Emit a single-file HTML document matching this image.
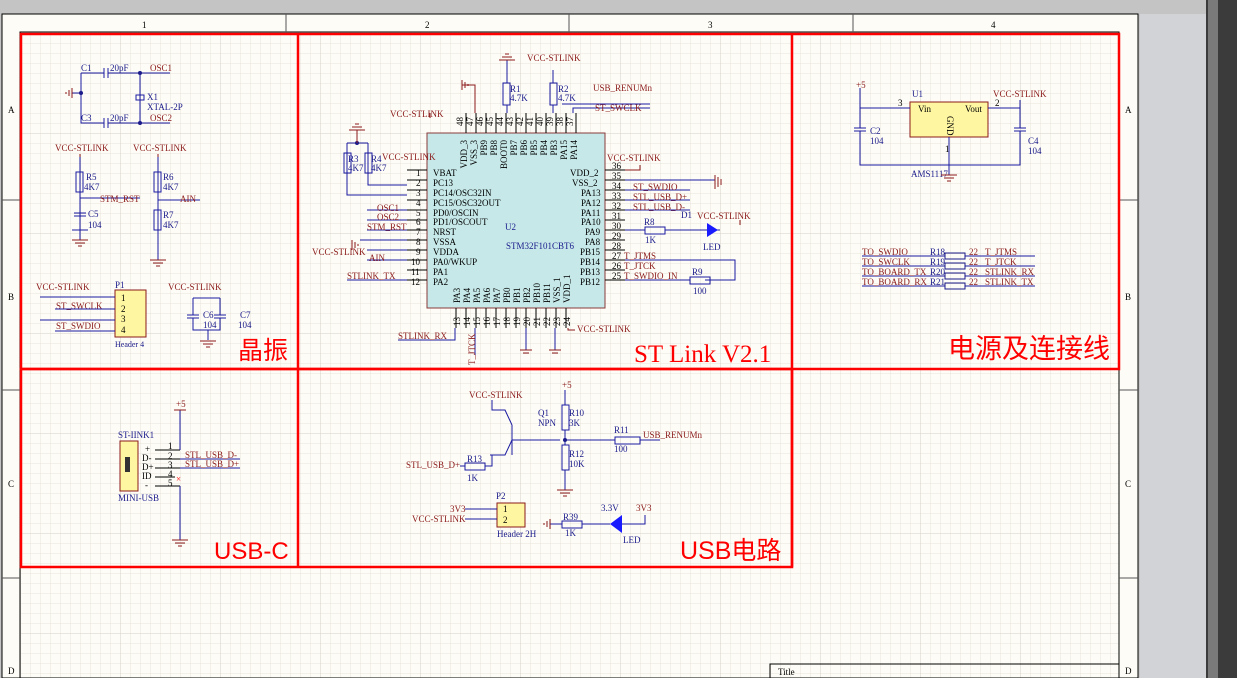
<!DOCTYPE html>
<html><head><meta charset="utf-8"><style>
html,body{margin:0;padding:0;background:#c4c4c4;width:1237px;height:678px;overflow:hidden}
svg{display:block}
text{font-family:"Liberation Serif","Noto Serif CJK SC",serif;font-size:9px}
.n{fill:#8b1a1a}.b{fill:#1a1a8b}.k{fill:#000}
.w{stroke:#1a1aa0;stroke-width:1;fill:none}
.p{stroke:#000;stroke-width:1;fill:none}
.r{stroke:#8b1a1a;stroke-width:1;fill:none}
.big{font-family:"Liberation Sans","Noto Sans CJK SC",sans-serif;font-size:22px;fill:#f00}
</style></head><body>
<svg width="1237" height="678" viewBox="0 0 1237 678">
<defs>
<pattern id="g" width="10" height="10" patternUnits="userSpaceOnUse" x="21" y="34"><path d="M10 0V10H0" fill="none" stroke="#e6e3da" stroke-width="1"/></pattern>
<pattern id="G" width="100" height="100" patternUnits="userSpaceOnUse" x="21" y="34"><path d="M100 0V100H0" fill="none" stroke="#d4d1c8" stroke-width="1"/></pattern>
</defs>
<rect x="0" y="0" width="1237" height="678" fill="#c4c4c4"/>
<rect x="1140" y="14" width="66" height="664" fill="#d2d3d6"/>
<rect x="1206" y="0" width="31" height="678" fill="#3b3b3b"/>
<rect x="1208" y="0" width="10" height="678" fill="#7a7a7a"/>
<rect x="2" y="14" width="1136" height="664" fill="#fdfcf6" stroke="#000"/>
<rect x="20" y="32" width="1099" height="646" fill="#fdfcf6"/>
<rect x="20" y="32" width="1099" height="646" fill="url(#g)"/>
<rect x="20" y="32" width="1099" height="646" fill="url(#G)"/>
<rect x="20" y="32" width="1099" height="646" fill="none" stroke="#000"/>
<g stroke="#555"><line x1="286" y1="14" x2="286" y2="32"/><line x1="569" y1="14" x2="569" y2="32"/><line x1="853" y1="14" x2="853" y2="32"/>
<line x1="1119" y1="200" x2="1138" y2="200"/><line x1="1119" y1="390" x2="1138" y2="390"/><line x1="1119" y1="578" x2="1138" y2="578"/>
<line x1="2" y1="200" x2="20" y2="200"/><line x1="2" y1="390" x2="20" y2="390"/><line x1="2" y1="578" x2="20" y2="578"/></g>
<g class="k"><text x="142" y="28">1</text><text x="425" y="28">2</text><text x="708" y="28">3</text><text x="991" y="28">4</text>
<text x="8" y="113">A</text><text x="1125" y="113">A</text><text x="8" y="300">B</text><text x="1125" y="300">B</text><text x="8" y="487">C</text><text x="1125" y="487">C</text><text x="8" y="674">D</text><text x="1125" y="674">D</text></g>
<rect x="770" y="664" width="349" height="14" fill="none" stroke="#000"/><text x="778" y="675" class="k">Title</text>

<!-- red boxes -->
<g fill="none" stroke="#f00" stroke-width="2.5">
<rect x="21" y="34" width="1098" height="335"/><line x1="298" y1="34" x2="298" y2="567"/><line x1="792" y1="34" x2="792" y2="567"/>
<rect x="21" y="369" width="771" height="198"/></g>
<text class="big" x="238" y="359" style="font-size:25px">晶振</text>
<text class="big" x="634" y="362" style="font-family:'Liberation Serif',serif;font-size:25px">ST Link V2.1</text>
<text class="big" x="948" y="358" style="font-size:27px">电源及连接线</text>
<text class="big" x="214" y="559" style="font-size:24px">USB-C</text>
<text class="big" x="680" y="559" style="font-size:25px">USB电路</text>

<!-- crystal -->
<g class="w"><path d="M81 73H104M108 73H140M81 73V123H104M108 123H140M140 73V123M140 73H170M140 123H170M72 93H81"/>
<path d="M104 68V78M108 68V78M104 118V128M108 118V128"/><rect x="136" y="95" width="8" height="5"/></g>
<g class="r"><path d="M72 88V98M69 90V96M66 92V94"/></g>
<circle cx="81" cy="93" r="2" fill="#1a1a8b"/><circle cx="140" cy="73" r="2" fill="#1a1a8b"/><circle cx="140" cy="123" r="2" fill="#1a1a8b"/>
<text x="81" y="71" class="b">C1</text><text x="110" y="71" class="b">20pF</text><text x="150" y="71" class="n">OSC1</text>
<text x="81" y="121" class="b">C3</text><text x="110" y="121" class="b">20pF</text><text x="150" y="121" class="n">OSC2</text>
<text x="147" y="100" class="b">X1</text><text x="147" y="110" class="b">XTAL-2P</text>
<text x="55" y="151" class="n">VCC-STLINK</text><text x="133" y="151" class="n">VCC-STLINK</text>
<g class="w"><path d="M80 157V240M158 157V260M80 198H140M158 200H200M80 200V230M72 230H88M158 210"/><rect x="76" y="172" width="7" height="20"/><rect x="154" y="172" width="7" height="20"/><rect x="154" y="210" width="7" height="20"/><path d="M74 213H86M74 216H86"/></g>
<g class="r"><path d="M72 240H88M75 243H85M78 246H82M150 260H166M153 263H163M156 266H160M80 154V157M158 154V157"/></g>
<text x="86" y="180" class="b">R5</text><text x="84" y="190" class="b">4K7</text><text x="163" y="180" class="b">R6</text><text x="163" y="190" class="b">4K7</text>
<text x="100" y="202" class="n">STM_RST</text><text x="180" y="202" class="n">AIN</text>
<text x="88" y="217" class="b">C5</text><text x="88" y="228" class="b">104</text><text x="163" y="218" class="b">R7</text><text x="163" y="228" class="b">4K7</text>
<!-- P1 -->
<rect x="115" y="290" width="31" height="47" fill="#fef6a0" stroke="#8b1a1a"/>
<text x="115" y="288" class="b">P1</text><text x="115" y="347" class="b" style="font-size:8px">Header 4</text>
<g class="k"><text x="121" y="301">1</text><text x="121" y="312">2</text><text x="121" y="322">3</text><text x="121" y="333">4</text></g>
<text x="36" y="290" class="n">VCC-STLINK</text><text x="56" y="309" class="n">ST_SWCLK</text><text x="56" y="329" class="n">ST_SWDIO</text>
<g class="w"><path d="M40 297H115M40 320H115M55 309H115M55 331H115"/></g>
<text x="168" y="290" class="n">VCC-STLINK</text>
<g class="w"><path d="M193 298H220M193 298V315M220 298V315M187 315H199M187 318H199M214 315H226M214 318H226M193 318V330H220V318M208 330V340"/></g>
<text x="203" y="318" class="b">C6</text><text x="203" y="328" class="b">104</text><text x="240" y="318" class="b">C7</text><text x="238" y="328" class="b">104</text>
<path d="M200 341H216M203 344H213M206 347H210" class="r"/>

<!-- STM32 -->
<rect x="427" y="133" width="178" height="175" fill="#c6e8e8" stroke="#8b3a3a"/>
<text x="505" y="230" class="b">U2</text><text x="506" y="249" class="b">STM32F101CBT6</text>
<g class="k" style="font-size:8.5px">
<text x="433" y="176">VBAT</text><text x="433" y="186">PC13</text><text x="433" y="196">PC14/OSC32IN</text><text x="433" y="206">PC15/OSC32OUT</text><text x="433" y="216">PD0/OSCIN</text><text x="433" y="225">PD1/OSCOUT</text><text x="433" y="235">NRST</text><text x="433" y="245">VSSA</text><text x="433" y="255">VDDA</text><text x="433" y="265">PA0/WKUP</text><text x="433" y="275">PA1</text><text x="433" y="285">PA2</text>
<text x="570" y="176">VDD_2</text><text x="572" y="186">VSS_2</text><text x="581" y="196">PA13</text><text x="581" y="206">PA12</text><text x="581" y="216">PA11</text><text x="581" y="225">PA10</text><text x="585" y="235">PA9</text><text x="585" y="245">PA8</text><text x="580" y="255">PB15</text><text x="580" y="265">PB14</text><text x="580" y="275">PB13</text><text x="580" y="285">PB12</text>
</g>
<g class="p">
<path d="M407 170H427M407 180H427M407 190H427M407 200H427M407 210H427M407 220H427M407 230H427M407 240H427M407 250H427M407 260H427M407 270H427M407 280H427"/>
<path d="M605 170H625M605 180H625M605 190H625M605 200H625M605 210H625M605 220H625M605 230H625M605 240H625M605 250H625M605 260H625M605 270H625M605 280H625"/>
<path d="M466 113V133M476 113V133M486 113V133M496 113V133M506 113V133M516 113V133M526 113V133M536 113V133M546 113V133M556 113V133M566 113V133M576 113V133"/>
<path d="M456 308V328M466 308V328M476 308V328M486 308V328M496 308V328M506 308V328M516 308V328M526 308V328M536 308V328M546 308V328M556 308V328M566 308V328"/>
</g>
<g class="k" style="font-size:7.5px">
<text x="416" y="176">1</text><text x="416" y="186">2</text><text x="416" y="196">3</text><text x="416" y="206">4</text><text x="416" y="216">5</text><text x="416" y="225">6</text><text x="416" y="235">7</text><text x="416" y="245">8</text><text x="416" y="255">9</text><text x="411" y="265">10</text><text x="411" y="275">11</text><text x="411" y="285">12</text>
<text x="612" y="169">36</text><text x="612" y="179">35</text><text x="612" y="189">34</text><text x="612" y="199">33</text><text x="612" y="209">32</text><text x="612" y="219">31</text><text x="612" y="229">30</text><text x="612" y="239">29</text><text x="612" y="249">28</text><text x="612" y="259">27</text><text x="612" y="269">26</text><text x="612" y="279">25</text>
</g>
<g class="k" style="font-size:7.5px">
<text transform="translate(463,126) rotate(-90)">48</text><text transform="translate(473,126) rotate(-90)">47</text><text transform="translate(483,126) rotate(-90)">46</text><text transform="translate(493,126) rotate(-90)">45</text><text transform="translate(503,126) rotate(-90)">44</text><text transform="translate(513,126) rotate(-90)">43</text><text transform="translate(523,126) rotate(-90)">42</text><text transform="translate(533,126) rotate(-90)">41</text><text transform="translate(543,126) rotate(-90)">40</text><text transform="translate(553,126) rotate(-90)">39</text><text transform="translate(563,126) rotate(-90)">38</text><text transform="translate(573,126) rotate(-90)">37</text>
<text transform="translate(467,140) rotate(-90)" text-anchor="end">VDD_3</text><text transform="translate(477,140) rotate(-90)" text-anchor="end">VSS_3</text><text transform="translate(487,140) rotate(-90)" text-anchor="end">PB9</text><text transform="translate(497,140) rotate(-90)" text-anchor="end">PB8</text><text transform="translate(507,140) rotate(-90)" text-anchor="end">BOOT0</text><text transform="translate(517,140) rotate(-90)" text-anchor="end">PB7</text><text transform="translate(527,140) rotate(-90)" text-anchor="end">PB6</text><text transform="translate(537,140) rotate(-90)" text-anchor="end">PB5</text><text transform="translate(547,140) rotate(-90)" text-anchor="end">PB4</text><text transform="translate(557,140) rotate(-90)" text-anchor="end">PB3</text><text transform="translate(567,140) rotate(-90)" text-anchor="end">PA15</text><text transform="translate(577,140) rotate(-90)" text-anchor="end">PA14</text>
<text transform="translate(460,303) rotate(-90)">PA3</text><text transform="translate(470,303) rotate(-90)">PA4</text><text transform="translate(480,303) rotate(-90)">PA5</text><text transform="translate(490,303) rotate(-90)">PA6</text><text transform="translate(500,303) rotate(-90)">PA7</text><text transform="translate(510,303) rotate(-90)">PB0</text><text transform="translate(520,303) rotate(-90)">PB1</text><text transform="translate(530,303) rotate(-90)">PB2</text><text transform="translate(540,303) rotate(-90)">PB10</text><text transform="translate(550,303) rotate(-90)">PB11</text><text transform="translate(560,303) rotate(-90)">VSS_1</text><text transform="translate(570,303) rotate(-90)">VDD_1</text>
<text transform="translate(460,326) rotate(-90)">13</text><text transform="translate(470,326) rotate(-90)">14</text><text transform="translate(480,326) rotate(-90)">15</text><text transform="translate(490,326) rotate(-90)">16</text><text transform="translate(500,326) rotate(-90)">17</text><text transform="translate(510,326) rotate(-90)">18</text><text transform="translate(520,326) rotate(-90)">19</text><text transform="translate(530,326) rotate(-90)">20</text><text transform="translate(540,326) rotate(-90)">21</text><text transform="translate(550,326) rotate(-90)">22</text><text transform="translate(560,326) rotate(-90)">23</text><text transform="translate(570,326) rotate(-90)">24</text>
</g>
<!-- chip nets -->
<g class="w"><path d="M347 143V195H407M368 143V185H407M347 143H368M507 60V83M507 105V113M553 70V83M553 105V113M562 104H650M573 113V108H650M367 210H407M367 220H407M367 230H407M360 240H407M367 250H407M367 260H407M347 280H407M625 190H690M625 200H690M625 210H690M625 230H645M665 230H720M625 260H735V280H705M625 280H690M625 180H715M475 328V355M455 328V340H398M526 328V350M555 328V350"/>
<rect x="344" y="153" width="7" height="20"/><rect x="365" y="153" width="7" height="20"/><rect x="503" y="83" width="7" height="22"/><rect x="550" y="83" width="7" height="22"/><rect x="645" y="227" width="20" height="7"/><rect x="690" y="277" width="20" height="7"/></g>
<circle cx="357" cy="143" r="2" fill="#1a1a8b"/>
<path d="M707 223L718 230L707 237ZM718 223V237" fill="#1a1aff"/>
<g class="r"><path d="M349 130H365M352 127H362M355 124H359M357 130V143M499 60H515M502 57H512M505 54H509M462 80V90M465 82V88M468 84V86M462 85H475V113M715 175V189M718 177V187M721 179V185M352 240V250M355 242V248M358 244V246M520 350H532M523 353H529M549 350H561M552 353H558M430 113V118M625 170H640V165M740 225V220M568 328V330H575"/></g>
<g class="n">
<text x="527" y="61">VCC-STLINK</text><text x="593" y="91">USB_RENUMn</text><text x="595" y="111">ST_SWCLK</text>
<text x="390" y="117">VCC-STLINK</text><text x="382" y="160">VCC-STLINK</text>
<text x="607" y="161">VCC-STLINK</text><text x="633" y="190">ST_SWDIO</text><text x="633" y="200">STL_USB_D+</text><text x="633" y="210">STL_USB_D-</text>
<text x="697" y="219">VCC-STLINK</text><text x="624" y="259">T_JTMS</text><text x="624" y="269">T_JTCK</text><text x="624" y="279">T_SWDIO_IN</text>
<text x="377" y="211">OSC1</text><text x="377" y="220">OSC2</text><text x="367" y="230">STM_RST</text><text x="312" y="255">VCC-STLINK</text><text x="369" y="261">AIN</text><text x="347" y="279">STLINK_TX</text>
<text x="398" y="339">STLINK_RX</text><text x="577" y="332">VCC-STLINK</text>
<text transform="translate(475,365) rotate(-90)">T_JTCK</text>
</g>
<g class="b"><text x="510" y="92">R1</text><text x="510" y="101">4.7K</text><text x="558" y="92">R2</text><text x="558" y="101">4.7K</text>
<text x="348" y="162">R3</text><text x="348" y="171">4K7</text><text x="371" y="162">R4</text><text x="371" y="171">4K7</text>
<text x="644" y="225">R8</text><text x="645" y="243">1K</text><text x="681" y="218">D1</text><text x="703" y="250">LED</text><text x="692" y="275">R9</text><text x="693" y="294">100</text></g>

<!-- Power -->
<rect x="910" y="102" width="78" height="35" fill="#fef6a0" stroke="#8b1a1a"/>
<g class="k"><text x="918" y="112">Vin</text><text x="965" y="112">Vout</text><text x="898" y="106">3</text><text x="995" y="106">2</text><text x="945" y="152">1</text><text transform="translate(947,116) rotate(90)">GND</text></g>
<text x="912" y="97" class="b">U1</text><text x="911" y="177" class="b">AMS1117</text>
<text x="856" y="88" class="n">+5</text><text x="993" y="97" class="n">VCC-STLINK</text>
<g class="w"><path d="M860 88V108H910M860 108V128M854 128H866M854 131H866M860 131V165H1020V131M1014 128H1026M1014 131H1026M1020 128V108H988M949 137V175M1020 100V108"/></g>
<path d="M941 175H957M944 178H954M947 181H951" class="r"/>
<text x="870" y="134" class="b">C2</text><text x="870" y="144" class="b">104</text><text x="1028" y="144" class="b">C4</text><text x="1028" y="154" class="b">104</text>
<g class="w"><path d="M862 256H945M862 266H945M862 276H945M862 286H945M965 256H1035M965 266H1035M965 276H1035M965 286H1035"/></g>
<g fill="none" stroke="#1a1a8b"><rect x="945" y="253" width="20" height="6"/><rect x="945" y="263" width="20" height="6"/><rect x="945" y="273" width="20" height="6"/><rect x="945" y="283" width="20" height="6"/></g>
<g class="n"><text x="862" y="255">TO_SWDIO</text><text x="862" y="265">TO_SWCLK</text><text x="862" y="275">TO_BOARD_TX</text><text x="862" y="285">TO_BOARD_RX</text>
<text x="969" y="255">22</text><text x="985" y="255">T_JTMS</text><text x="969" y="265">22</text><text x="985" y="265">T_JTCK</text><text x="969" y="275">22</text><text x="985" y="275">STLINK_RX</text><text x="969" y="285">22</text><text x="985" y="285">STLINK_TX</text></g>
<g class="b"><text x="930" y="255">R18</text><text x="930" y="265">R19</text><text x="930" y="275">R20</text><text x="930" y="285">R21</text></g>

<!-- USB-C -->
<rect x="120" y="441" width="18" height="50" fill="#fef6a0" stroke="#8b1a1a"/>
<rect x="125" y="457" width="5" height="15" fill="#333"/>
<text x="118" y="438" class="b">ST-IINK1</text><text x="118" y="501" class="b">MINI-USB</text>
<g class="k" style="font-size:8px"><text x="145" y="452">+</text><text x="142" y="461">D-</text><text x="142" y="470">D+</text><text x="142" y="479">ID</text><text x="145" y="488">-</text>
<text x="168" y="449">1</text><text x="168" y="459">2</text><text x="168" y="468">3</text><text x="168" y="477">4</text><text x="168" y="486">5</text></g>
<g class="p"><path d="M155 450H180M155 459H180M155 468H180M155 477H175M155 486H180"/></g>
<g class="w"><path d="M180 410V450M180 459H240M180 468H240M180 486V540"/></g>
<path d="M172 540H188M175 543H185M178 546H182M174 410H186" class="r"/>
<text x="176" y="407" class="n">+5</text><text x="185" y="458" class="n">STL_USB_D-</text><text x="185" y="467" class="n">STL_USB_D+</text>
<text x="176" y="482" style="fill:#f00">×</text>

<!-- USB circuit -->
<text x="469" y="398" class="n">VCC-STLINK</text><text x="562" y="388" class="n">+5</text>
<g class="w"><path d="M492 400V410H505L512 425M512 425V455M512 440L505 455H490M512 425L505 410M512 440H560M565 390V405M565 430V440H615M640 440H660M565 440V445M565 470V490M460 466H465M485 466H492V455"/><rect x="562" y="405" width="7" height="25"/><rect x="562" y="445" width="7" height="25"/><rect x="615" y="437" width="25" height="7"/><rect x="465" y="463" width="20" height="7"/></g>
<circle cx="565" cy="440" r="2" fill="#1a1a8b"/>
<path d="M557 490H573M560 493H570M563 496H567" class="r"/>
<g class="b"><text x="538" y="416">Q1</text><text x="538" y="426">NPN</text><text x="569" y="416">R10</text><text x="569" y="426">3K</text><text x="569" y="457">R12</text><text x="569" y="467">10K</text><text x="614" y="433">R11</text><text x="614" y="452">100</text><text x="467" y="462">R13</text><text x="467" y="481">1K</text></g>
<text x="643" y="438" class="n">USB_RENUMn</text><text x="406" y="468" class="n">STL_USB_D+</text>
<rect x="497" y="503" width="28" height="24" fill="#fef6a0" stroke="#8b1a1a"/>
<text x="496" y="499" class="b">P2</text><text x="497" y="537" class="b">Header 2H</text>
<g class="k"><text x="503" y="512">1</text><text x="503" y="523">2</text></g>
<g class="w"><path d="M465 509H497M465 519H497"/></g>
<text x="450" y="512" class="n">3V3</text><text x="412" y="522" class="n">VCC-STLINK</text>
<text x="563" y="520" class="b">R39</text><text x="565" y="536" class="b">1K</text><text x="601" y="511" class="b">3.3V</text><text x="623" y="543" class="b">LED</text><text x="636" y="511" class="n">3V3</text>
<g class="w"><path d="M550 524H562M582 524H610M622 524H645V515"/><rect x="562" y="521" width="20" height="7"/></g>
<path d="M622 515V533M622 515L610 524L622 533Z" fill="#1a1aff"/>
<path d="M550 519V529M547 521V527M544 523V525" class="r"/>
</svg>
</body></html>
